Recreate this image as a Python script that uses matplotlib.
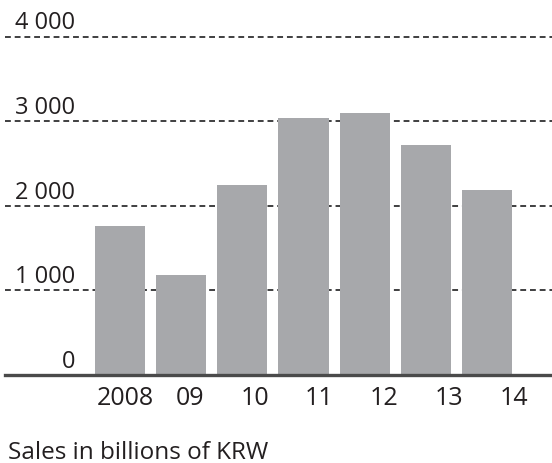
import matplotlib
matplotlib.use('Agg')
from matplotlib import pyplot as plt
import matplotlib.transforms as mtransforms

# sales in billions of KRW
years = ['2008', '09', '10', '11', '12', '13', '14']
sales = [1760, 1185, 2250, 3035, 3095, 2720, 2190]
grid_values = [1000, 2000, 3000, 4000]
y_labels = ['0', '1 000', '2 000', '3 000', '4 000']

plt.rcParams['font.family'] = ['Open Sans', 'DejaVu Sans']
text_col = '#231f20'

fig = plt.figure(figsize=(5.52, 4.64), dpi=100)
ax = fig.add_axes([5 / 552, 1 - 376 / 464, 547 / 552, (376 - 37.5) / 464])

x = list(range(len(years)))
ax.bar(x, sales, width=0.82, color='#a7a8ab', zorder=2)

for v in grid_values:
    ax.axhline(v, color='#3f3f40', lw=1.4, linestyle=(0, (3, 2)), zorder=1, clip_on=False)
ax.axhline(0, color='#4a4a4a', lw=2.4, zorder=3, clip_on=False)

ax.set_xlim(-1.882, 7.064)
ax.set_ylim(0, 4000)

# y labels sit above their grid line, right aligned
trans = mtransforms.blended_transform_factory(ax.transAxes, ax.transData)
for v, lab in zip([0] + grid_values, y_labels):
    ax.annotate(lab, xy=(0.128, v), xycoords=trans, xytext=(0, 8),
                textcoords='offset pixels', ha='right', va='baseline',
                fontsize=17, color=text_col, annotation_clip=False)

# the year labels in the original drift a little to the right of the bars
ax.set_xticks([i * 1.06 + 0.08 for i in x])
ax.set_xticklabels(years, fontsize=18, color=text_col)
ax.tick_params(axis='x', length=0, pad=7)
ax.set_yticks([])
for s in ax.spines.values():
    s.set_visible(False)

fig.text(8 / 552, 1 - 459 / 464, 'Sales in billions of KRW', ha='left', va='baseline',
         fontsize=17.5, color=text_col)

fig.savefig('out.png', dpi=100)
